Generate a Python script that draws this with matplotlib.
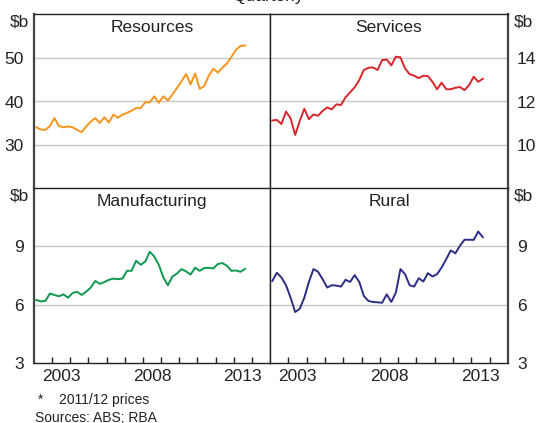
import matplotlib.pyplot as plt
import numpy as np
from matplotlib.ticker import FixedLocator, NullFormatter

plt.rcParams["font.family"] = ["Liberation Sans", "DejaVu Sans"]

# quarterly observations, 2002 Q1 to 2013 Q3 (mid-quarter positions in years)
quarters = 2002.125 + 0.25 * np.arange(47)

resources = [34.1, 33.6, 33.5, 34.4, 36.2, 34.4, 34.1, 34.3, 34.1, 33.5,
             33.0, 34.3, 35.4, 36.2, 35.1, 36.4, 35.2, 37.0, 36.3, 37.0,
             37.4, 37.9, 38.5, 38.5, 39.8, 39.8, 41.2, 39.7, 41.2, 40.2,
             41.6, 43.1, 44.6, 46.3, 43.9, 46.4, 42.9, 43.5, 45.9, 47.5,
             46.6, 47.7, 48.7, 50.2, 51.8, 52.7, 52.8]
services = [11.13, 11.16, 10.97, 11.54, 11.23, 10.47, 11.11, 11.67, 11.19, 11.41,
            11.35, 11.57, 11.73, 11.64, 11.87, 11.84, 12.19, 12.42, 12.65, 12.98,
            13.44, 13.54, 13.56, 13.44, 13.89, 13.92, 13.65, 14.05, 14.02, 13.51,
            13.25, 13.18, 13.07, 13.18, 13.16, 12.90, 12.56, 12.86, 12.56, 12.56,
            12.63, 12.66, 12.52, 12.75, 13.13, 12.90, 13.04]
manufacturing = [6.24, 6.17, 6.19, 6.57, 6.50, 6.43, 6.53, 6.36, 6.60, 6.66,
                 6.50, 6.67, 6.88, 7.22, 7.07, 7.16, 7.28, 7.34, 7.31, 7.34,
                 7.74, 7.74, 8.26, 8.05, 8.21, 8.72, 8.48, 8.05, 7.40, 7.00,
                 7.45, 7.60, 7.83, 7.71, 7.55, 7.90, 7.74, 7.88, 7.90, 7.86,
                 8.09, 8.14, 8.00, 7.74, 7.76, 7.69, 7.84]
rural = [7.22, 7.64, 7.40, 7.00, 6.36, 5.62, 5.79, 6.36, 7.17, 7.83,
         7.69, 7.31, 6.88, 7.00, 6.98, 6.93, 7.28, 7.17, 7.52, 7.17,
         6.45, 6.19, 6.14, 6.12, 6.10, 6.53, 6.14, 6.62, 7.83, 7.57,
         7.00, 6.93, 7.36, 7.19, 7.62, 7.45, 7.57, 7.91, 8.34, 8.79,
         8.64, 9.03, 9.34, 9.34, 9.33, 9.76, 9.47]

year_labels = ["2003", "2008", "2013"]
label_pos = [2003.5, 2008.5, 2013.5]
year_ticks = list(range(2003, 2015))

FS = 12.5
INK = "#222222"

fig = plt.figure(figsize=(5.36, 4.23), dpi=100)
W, H = 536, 423
left, mid, right = 34 / W, 270 / W, 508 / W
top, middle, bottom = 1 - 14 / H, 1 - 189 / H, 1 - 363 / H

panels = [
    ("Resources", resources, "#f7941d", (20, 60), [30, 40, 50], "left", (left, middle)),
    ("Services", services, "#d9262c", (8, 16), [10, 12, 14], "right", (mid, middle)),
    ("Manufacturing", manufacturing, "#0d9a4f", (3, 12), [3, 6, 9], "left", (left, bottom)),
    ("Rural", rural, "#2b2d84", (3, 12), [3, 6, 9], "right", (mid, bottom)),
]

for title, values, color, ylim, yticks, side, (x0, y0) in panels:
    ax = fig.add_axes([x0, y0, mid - left if x0 == left else right - mid, top - middle])
    ax.plot(quarters, values, color=color, linewidth=1.4, zorder=3)
    ax.set_xlim(2002, 2015)
    ax.set_ylim(*ylim)
    for v in yticks:
        if ylim[0] < v < ylim[1]:
            ax.axhline(v, color="#c8c8c8", linewidth=1.0, zorder=1)
    ax.set_yticks(yticks)
    ax.set_yticklabels([str(v) for v in yticks])
    if side == "left":
        ax.tick_params(axis="y", left=False, right=False, labelleft=True,
                       labelright=False, labelsize=FS, pad=4)
        ax.text(-0.02, 0.995, "$b", transform=ax.transAxes, ha="right", va="top",
                fontsize=FS, color=INK)
    else:
        ax.tick_params(axis="y", left=False, right=False, labelleft=False,
                       labelright=True, labelsize=FS, pad=3)
        ax.text(1.025, 0.995, "$b", transform=ax.transAxes, ha="left", va="top",
                fontsize=FS, color=INK)
    ax.annotate(title, xy=(0.5, 1), xycoords="axes fraction", xytext=(0, -4),
                textcoords="offset points", ha="center", va="top", fontsize=FS,
                color=INK)
    if y0 == bottom:
        ax.xaxis.set_major_locator(FixedLocator(year_ticks))
        ax.xaxis.set_major_formatter(NullFormatter())
        ax.xaxis.set_minor_locator(FixedLocator(label_pos))
        ax.set_xticklabels(year_labels, minor=True)
        ax.tick_params(axis="x", which="major", direction="in", length=4,
                       width=1, color=INK)
        ax.tick_params(axis="x", which="minor", length=0, labelsize=FS, pad=4)
    else:
        ax.set_xticks([])
    for name, sp in ax.spines.items():
        sp.set_color(INK)
        sp.set_linewidth(1.0)
    outer = "left" if side == "left" else "right"
    ax.spines[outer].set_linewidth(1.6)
    ax.spines[outer].set_color("#444444")
    ax.tick_params(colors=INK, labelcolor=INK, which="both")

# title fragment cut off at the top edge
fig.text(0.5, 1 - 1.5 / H, "Quarterly", ha="center", va="baseline", fontsize=FS,
         color=INK)

fig.text(38 / W, 1 - 400 / H, "*", ha="left", va="center", fontsize=10, color=INK)
fig.text(59 / W, 1 - 400 / H, "2011/12 prices", ha="left", va="center", fontsize=10,
         color=INK)
fig.text(35 / W, 1 - 418 / H, "Sources: ABS; RBA", ha="left", va="center", fontsize=10,
         color=INK)

fig.savefig("out.png", dpi=100)
